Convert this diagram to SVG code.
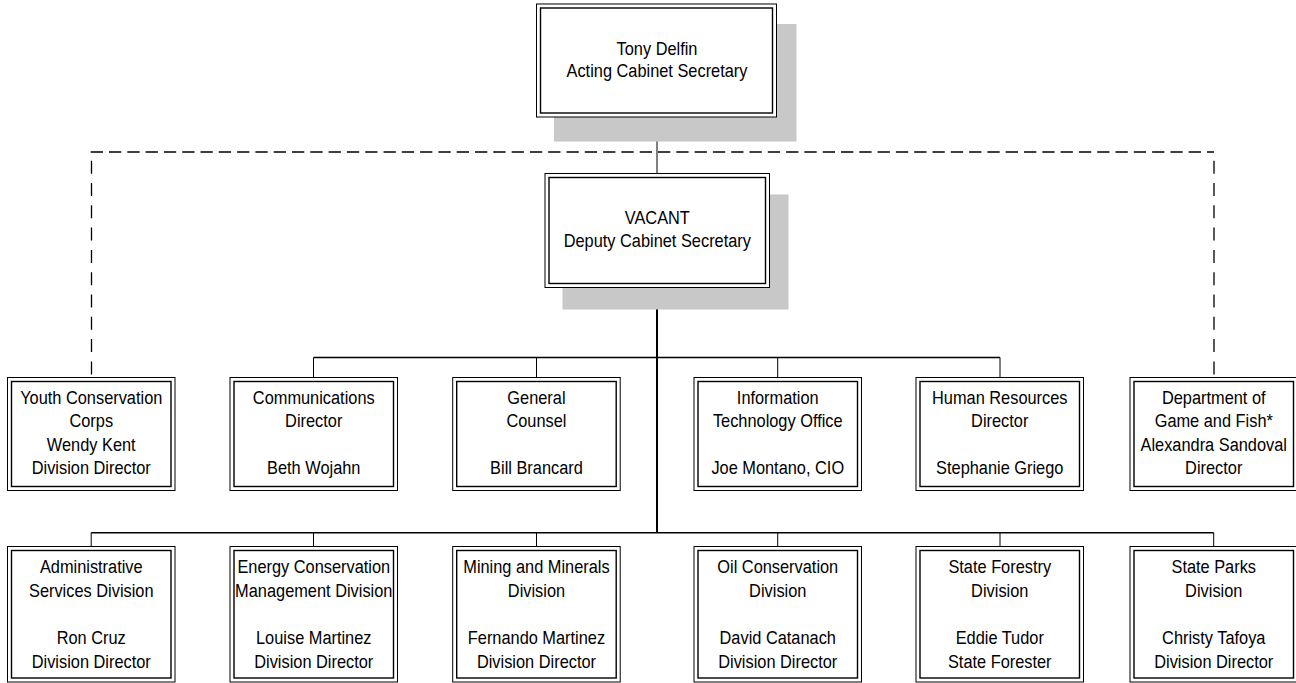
<svg xmlns="http://www.w3.org/2000/svg" width="1296" height="683" viewBox="0 0 1296 683">
<style>
.bg{fill:#ffffff}
.shadow{fill:#c8c8c8;stroke:none}
.outer{fill:#ffffff;stroke:#000;stroke-width:1}
.inner{fill:none;stroke:#000;stroke-width:1.4}
.lbl text{font-family:"Liberation Sans",Arial,sans-serif;font-size:18.5px;fill:#000;text-anchor:middle}
.solid{fill:none;stroke:#000;stroke-width:1}
.trunk{fill:none;stroke:#000;stroke-width:2}
.bus{fill:none;stroke:#000;stroke-width:1.6}
.dashh{fill:none;stroke:#000;stroke-width:1.3;stroke-dasharray:12.3 6}
.dashv{fill:none;stroke:#000;stroke-width:1.3;stroke-dasharray:13 9.3}
</style>
<rect class="bg" x="0" y="0" width="1296" height="683"/>

<g id="connectors">
  <path class="solid" d="M657 117 V173.5"/>
  <path class="dashh" d="M90.7 152 H1214"/>
  <path class="dashv" d="M91.5 160.7 V377.5"/>
  <path class="dashv" d="M1214 160.7 V377.5"/>
  <path class="trunk" d="M657 287.5 V533"/>
  <path class="bus" d="M313.5 357.5 H1000"/>
  <path class="solid" d="M313.5 357.5 V377.5 M536.5 357.5 V377.5 M777.7 357.5 V377.5 M1000 357.5 V377.5"/>
  <path class="bus" d="M91.2 532.7 H1213.7"/>
  <path class="solid" d="M91.2 532.7 V546.5 M313.5 532.7 V546.5 M536.5 532.7 V546.5 M777.7 532.7 V546.5 M1000 532.7 V546.5 M1213.7 532.7 V546.5"/>
</g>

<g id="secretary">
  <rect class="shadow" x="554" y="24" width="242.5" height="117.5"/>
  <rect class="outer" x="536.5" y="4" width="240" height="113"/>
  <rect class="inner" x="540.5" y="8" width="232" height="105"/>
  <g class="lbl" transform="translate(657 0) scale(0.885 1)">
    <text x="0" y="55">Tony Delfin</text>
    <text x="0" y="77.5">Acting Cabinet Secretary</text>
  </g>
</g>

<g id="deputy">
  <rect class="shadow" x="562.5" y="194.5" width="226" height="115"/>
  <rect class="outer" x="545" y="173.5" width="224.5" height="114"/>
  <rect class="inner" x="549" y="177.5" width="216.5" height="106"/>
  <g class="lbl" transform="translate(657.3 0) scale(0.885 1)">
    <text x="0" y="224">VACANT</text>
    <text x="0" y="247">Deputy Cabinet Secretary</text>
  </g>
</g>

<g id="youth">
  <rect class="outer" x="7.5" y="377.5" width="167.5" height="113"/>
  <rect class="inner" x="11.5" y="381.5" width="159.5" height="105"/>
  <g class="lbl" transform="translate(91.25 0) scale(0.885 1)">
    <text x="0" y="404">Youth Conservation</text>
    <text x="0" y="427.5">Corps</text>
    <text x="0" y="451">Wendy Kent</text>
    <text x="0" y="474.5">Division Director</text>
  </g>
</g>

<g id="communications">
  <rect class="outer" x="230" y="377.5" width="167.5" height="113"/>
  <rect class="inner" x="234" y="381.5" width="159.5" height="105"/>
  <g class="lbl" transform="translate(313.75 0) scale(0.885 1)">
    <text x="0" y="404">Communications</text>
    <text x="0" y="427.5">Director</text>
    <text x="0" y="474.5">Beth Wojahn</text>
  </g>
</g>

<g id="counsel">
  <rect class="outer" x="452.7" y="377.5" width="167.5" height="113"/>
  <rect class="inner" x="456.7" y="381.5" width="159.5" height="105"/>
  <g class="lbl" transform="translate(536.45 0) scale(0.885 1)">
    <text x="0" y="404">General</text>
    <text x="0" y="427.5">Counsel</text>
    <text x="0" y="474.5">Bill Brancard</text>
  </g>
</g>

<g id="it">
  <rect class="outer" x="694" y="377.5" width="167.5" height="113"/>
  <rect class="inner" x="698" y="381.5" width="159.5" height="105"/>
  <g class="lbl" transform="translate(777.75 0) scale(0.885 1)">
    <text x="0" y="404">Information</text>
    <text x="0" y="427.5">Technology Office</text>
    <text x="0" y="474.5">Joe Montano, CIO</text>
  </g>
</g>

<g id="hr">
  <rect class="outer" x="916" y="377.5" width="167.5" height="113"/>
  <rect class="inner" x="920" y="381.5" width="159.5" height="105"/>
  <g class="lbl" transform="translate(999.75 0) scale(0.885 1)">
    <text x="0" y="404">Human Resources</text>
    <text x="0" y="427.5">Director</text>
    <text x="0" y="474.5">Stephanie Griego</text>
  </g>
</g>

<g id="gamefish">
  <rect class="outer" x="1130" y="377.5" width="167.5" height="113"/>
  <rect class="inner" x="1134" y="381.5" width="159.5" height="105"/>
  <g class="lbl" transform="translate(1213.75 0) scale(0.885 1)">
    <text x="0" y="404">Department of</text>
    <text x="0" y="427.5">Game and Fish*</text>
    <text x="0" y="451">Alexandra Sandoval</text>
    <text x="0" y="474.5">Director</text>
  </g>
</g>

<g id="admin">
  <rect class="outer" x="7.5" y="546.5" width="167.5" height="135.5"/>
  <rect class="inner" x="11.5" y="550.5" width="159.5" height="127.5"/>
  <g class="lbl" transform="translate(91.25 0) scale(0.885 1)">
    <text x="0" y="573.5">Administrative</text>
    <text x="0" y="597">Services Division</text>
    <text x="0" y="644.2">Ron Cruz</text>
    <text x="0" y="667.8">Division Director</text>
  </g>
</g>

<g id="energy">
  <rect class="outer" x="230" y="546.5" width="167.5" height="135.5"/>
  <rect class="inner" x="234" y="550.5" width="159.5" height="127.5"/>
  <g class="lbl" transform="translate(313.75 0) scale(0.885 1)">
    <text x="0" y="573.5">Energy Conservation</text>
    <text x="0" y="597">Management Division</text>
    <text x="0" y="644.2">Louise Martinez</text>
    <text x="0" y="667.8">Division Director</text>
  </g>
</g>

<g id="mining">
  <rect class="outer" x="452.7" y="546.5" width="167.5" height="135.5"/>
  <rect class="inner" x="456.7" y="550.5" width="159.5" height="127.5"/>
  <g class="lbl" transform="translate(536.45 0) scale(0.885 1)">
    <text x="0" y="573.5">Mining and Minerals</text>
    <text x="0" y="597">Division</text>
    <text x="0" y="644.2">Fernando Martinez</text>
    <text x="0" y="667.8">Division Director</text>
  </g>
</g>

<g id="oil">
  <rect class="outer" x="694" y="546.5" width="167.5" height="135.5"/>
  <rect class="inner" x="698" y="550.5" width="159.5" height="127.5"/>
  <g class="lbl" transform="translate(777.75 0) scale(0.885 1)">
    <text x="0" y="573.5">Oil Conservation</text>
    <text x="0" y="597">Division</text>
    <text x="0" y="644.2">David Catanach</text>
    <text x="0" y="667.8">Division Director</text>
  </g>
</g>

<g id="forestry">
  <rect class="outer" x="916" y="546.5" width="167.5" height="135.5"/>
  <rect class="inner" x="920" y="550.5" width="159.5" height="127.5"/>
  <g class="lbl" transform="translate(999.75 0) scale(0.885 1)">
    <text x="0" y="573.5">State Forestry</text>
    <text x="0" y="597">Division</text>
    <text x="0" y="644.2">Eddie Tudor</text>
    <text x="0" y="667.8">State Forester</text>
  </g>
</g>

<g id="parks">
  <rect class="outer" x="1130" y="546.5" width="167.5" height="135.5"/>
  <rect class="inner" x="1134" y="550.5" width="159.5" height="127.5"/>
  <g class="lbl" transform="translate(1213.75 0) scale(0.885 1)">
    <text x="0" y="573.5">State Parks</text>
    <text x="0" y="597">Division</text>
    <text x="0" y="644.2">Christy Tafoya</text>
    <text x="0" y="667.8">Division Director</text>
  </g>
</g>
</svg>
